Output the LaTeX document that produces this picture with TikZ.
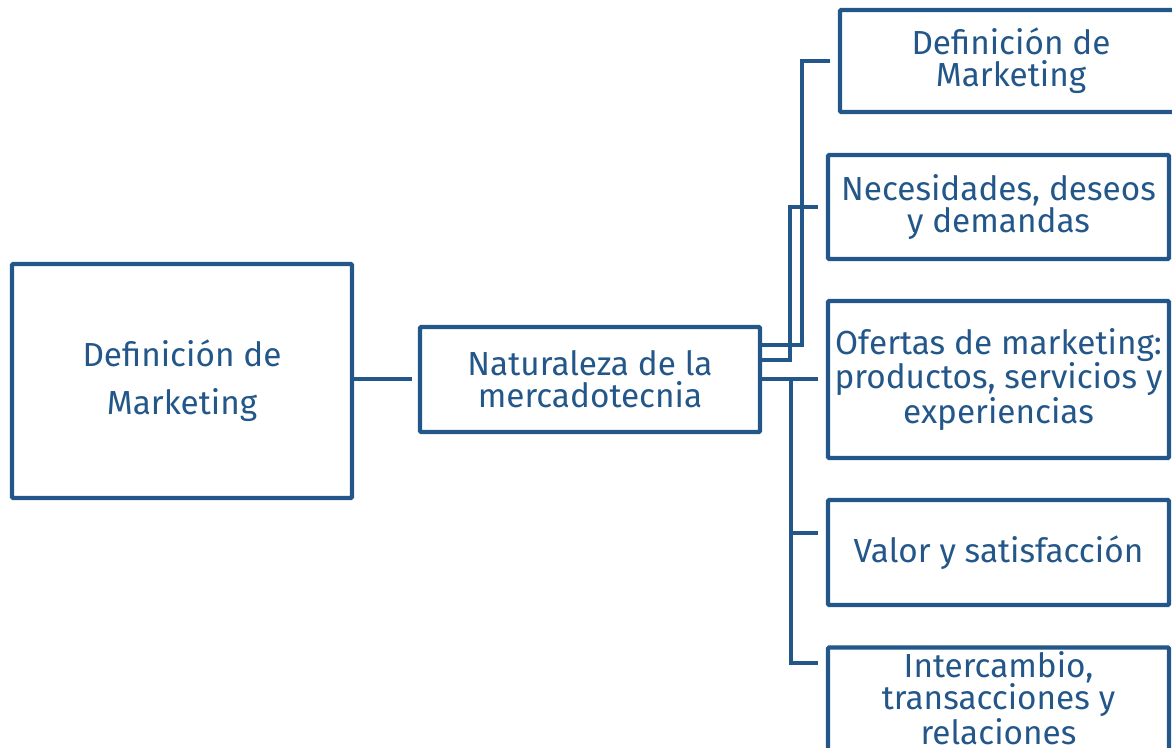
\documentclass[tikz,border=0pt]{standalone}
\usepackage{fontspec}
\setmainfont{Fira Sans}
\definecolor{mkblue}{RGB}{35,87,137}

\begin{document}
\begin{tikzpicture}[x=0.75pt,y=-0.75pt,
  box/.style={draw=mkblue,line width=3.3pt,rounded corners=1pt,inner sep=0pt,
    text=mkblue,align=center,minimum width=255.75pt,
    font=\fontsize{25}{24}\selectfont},
  link/.style={draw=mkblue,line width=3.3pt,shorten >=6pt}]
  \useasboundingbox (0,0) rectangle (1172,748);
  % left part
  \node[box,minimum width=255pt,minimum height=175.5pt,
    font=\fontsize{25}{36}\selectfont] (def) at (182,381) {Definición de\\Marketing};
  \node[box,minimum width=255pt,minimum height=78.75pt] (nat) at (590,379.5)
    {Naturaleza de la\\mercadotecnia};
  \coordinate (gap) at (412,379);
  \draw[link,shorten >=0pt] (def.east |- gap) -- (gap);
  % right column
  \node[box,minimum width=256.5pt,minimum height=76.5pt] (dm) at (1011,61)
    {Definición de\\Marketing};
  \node[box,minimum height=78pt] (nec) at (998.5,207)
    {Necesidades, deseos\\y demandas};
  \node[box,minimum height=117.75pt] (ofe) at (998.5,379.5)
    {Ofertas de marketing:\\productos, servicios y\\experiencias};
  \node[box,minimum height=78.75pt] (val) at (998.5,552.5)
    {Valor y satisfacción};
  \node[box,minimum height=117.75pt,text depth=42pt] (int) at (998.5,726)
    {Intercambio,\\transacciones y\\relaciones};
  % connectors
  \draw[link] (nat.east |- 0,345) -| (802,61) -- (dm.west |- 802,61);
  \draw[link] (nat.east |- 0,360) -| (790,207) -- (nec.west);
  \draw[link] (nat.east |- 0,379) -- (ofe.west |- 0,379);
  \draw[link] (791,379) |- (val.west |- 0,533);
  \draw[link] (791,379) |- (int.west |- 0,663);
\end{tikzpicture}
\end{document}
